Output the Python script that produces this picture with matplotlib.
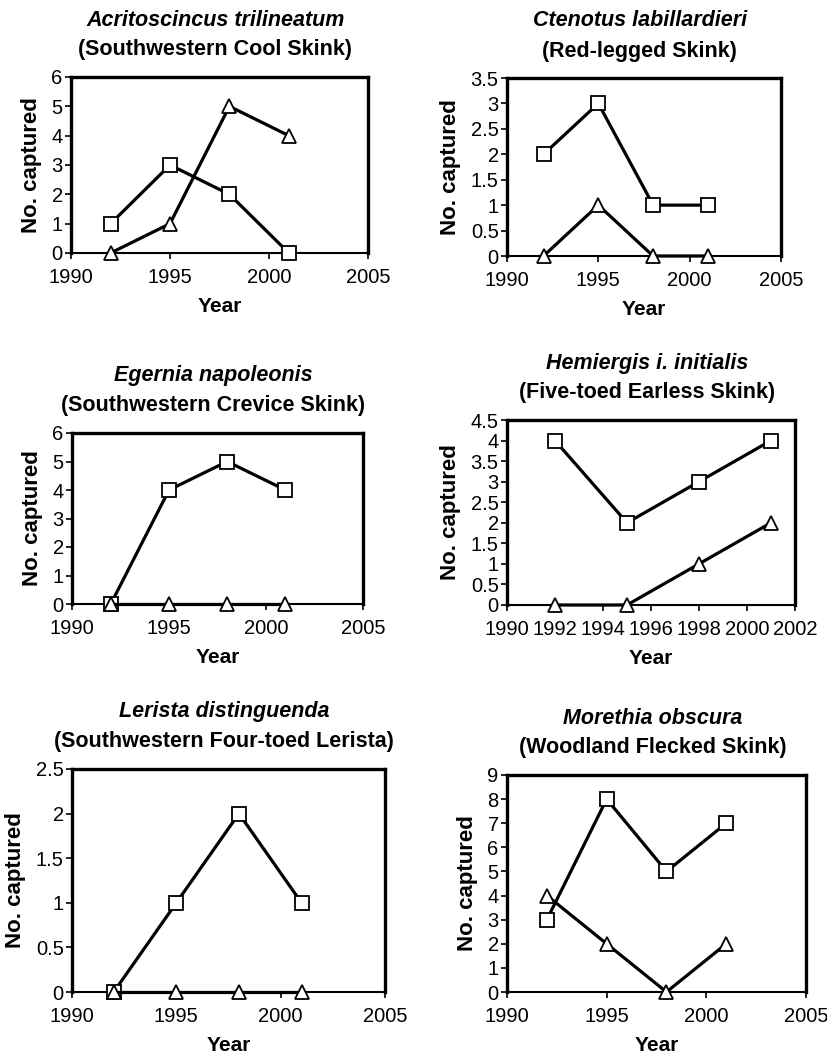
import matplotlib
matplotlib.use("Agg")
import matplotlib.pyplot as plt

plt.rcParams['font.family'] = ['Liberation Sans', 'DejaVu Sans']

years = [1992, 1995, 1998, 2001]

titles = [
    ("Acritoscincus trilineatum", "(Southwestern Cool Skink)"),
    ("Ctenotus labillardieri", "(Red-legged Skink)"),
    ("Egernia napoleonis", "(Southwestern Crevice Skink)"),
    ("Hemiergis i. initialis", "(Five-toed Earless Skink)"),
    ("Lerista distinguenda", "(Southwestern Four-toed Lerista)"),
    ("Morethia obscura", "(Woodland Flecked Skink)"),
]

squares = [
    [1, 3, 2, 0],
    [2, 3, 1, 1],
    [0, 4, 5, 4],
    [4, 2, 3, 4],
    [0, 1, 2, 1],
    [3, 8, 5, 7],
]

triangles = [
    [0, 1, 5, 4],
    [0, 1, 0, 0],
    [0, 0, 0, 0],
    [0, 0, 1, 2],
    [0, 0, 0, 0],
    [4, 2, 0, 2],
]

y_max = [6, 3.5, 6, 4.5, 2.5, 9]
y_step = [1, 0.5, 1, 0.5, 0.5, 1]
x_ticks = [
    [1990, 1995, 2000, 2005],
    [1990, 1995, 2000, 2005],
    [1990, 1995, 2000, 2005],
    [1990, 1992, 1994, 1996, 1998, 2000, 2002],
    [1990, 1995, 2000, 2005],
    [1990, 1995, 2000, 2005],
]

# axes boxes in pixels: left, top, right, bottom
boxes = [
    (71, 77, 368, 253),
    (507, 78, 781, 256),
    (72, 433, 363, 604),
    (507, 420, 795, 605),
    (72, 769, 385, 992),
    (507, 775, 806, 992),
]

W, H = 827, 1054
fig = plt.figure(figsize=(W / 100, H / 100), dpi=100)

for i in range(6):
    l, t, r, b = boxes[i]
    ax = fig.add_axes([l / W, 1 - b / H, (r - l) / W, (b - t) / H])
    ax.plot(years, squares[i], color='black', lw=2.3, marker='s', ms=9.5,
            mfc='white', mec='black', mew=1.3, clip_on=False, zorder=3)
    ax.plot(years, triangles[i], color='black', lw=2.3, marker='^', ms=9.5,
            mfc='white', mec='black', mew=1.3, clip_on=False, zorder=4)

    xt = x_ticks[i]
    ax.set_xlim(xt[0], xt[-1])
    ax.set_xticks(xt)
    ax.set_ylim(0, y_max[i])
    n = int(round(y_max[i] / y_step[i]))
    yt = [k * y_step[i] for k in range(n + 1)]
    ax.set_yticks(yt)
    ax.set_yticklabels(['%g' % v for v in yt])
    ax.tick_params(direction='out', length=4, width=1.2, labelsize=14.5)
    ax.tick_params(axis='x', pad=7)
    ax.tick_params(axis='y', pad=2)

    for side in ['top', 'right', 'left']:
        ax.spines[side].set_linewidth(2.4)
    ax.spines['bottom'].set_linewidth(1.5)

    ax.set_xlabel("Year", fontsize=15, fontweight='bold', labelpad=7)
    ax.set_ylabel("No. captured", fontsize=16, fontweight='bold', labelpad=7)

    cx = (l + r) / 2 / W
    fig.text(cx - 0.005, 1 - (t - 57) / H, titles[i][0], ha='center', va='center',
             fontsize=15.5, fontweight='bold', style='italic')
    fig.text(cx - 0.005, 1 - (t - 27) / H, titles[i][1], ha='center', va='center',
             fontsize=15.5, fontweight='bold')

fig.savefig("out.png", dpi=100)
